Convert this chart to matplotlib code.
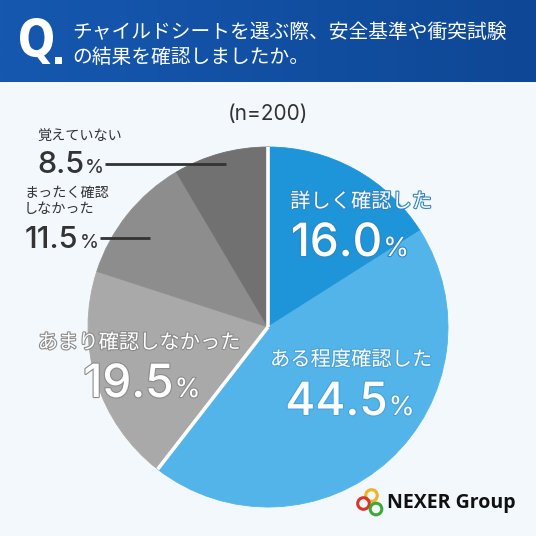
import matplotlib
matplotlib.use('Agg')
import matplotlib.pyplot as plt
import numpy as np
from matplotlib import patheffects as pe
from matplotlib.patches import Circle, PathPatch
from matplotlib.colors import LinearSegmentedColormap
from matplotlib.textpath import TextPath
from matplotlib.font_manager import FontProperties
from matplotlib.transforms import Affine2D

# ---------------- data ----------------
categories = ['詳しく確認した', 'ある程度確認した', 'あまり確認しなかった',
              'まったく確認\nしなかった', '覚えていない']
values = [16.0, 44.5, 19.5, 11.5, 8.5]
colors = ['#1E95D8', '#53B4E9', '#A9A9A9', '#8D8D8D', '#717171']
title_lines = ['チャイルドシートを選ぶ際、安全基準や衝突試験', 'の結果を確認しましたか。']
n_label = '(n=200)'
brand = 'NEXER Group'

JP = ['Noto Sans CJK JP', 'DejaVu Sans']
NUM = ['Inter', 'DejaVu Sans']

W = H = 536
BG = '#F3F8FC'
fig = plt.figure(figsize=(5.36, 5.36), dpi=100)
fig.patch.set_facecolor(BG)

# base axes: background + header
base = fig.add_axes([0, 0, 1, 1], zorder=0)
base.set_facecolor(BG)
base.axis('off')
grad = np.linspace(0, 1, 256)[None, :]
cmap = LinearSegmentedColormap.from_list('h', ['#1658B0', '#0E4795'])
base.imshow(grad, extent=[0, W, 82, 0], cmap=cmap, aspect='auto', zorder=0)
base.set_xlim(0, W)
base.set_ylim(H, 0)

# ---------------- pie ----------------
cx, cy, r = 268, 327, 180
pax = fig.add_axes([(cx - r) / W, (H - cy - r) / H, 2 * r / W, 2 * r / H], zorder=1)
wedges, _ = pax.pie(values, colors=colors, startangle=90, counterclock=False, radius=1)
for w, c in zip(wedges, colors):
    w.set_edgecolor(c)
    w.set_linewidth(0.6)
pax.set_xlim(-1, 1)
pax.set_ylim(-1, 1)
pax.set_aspect('equal')
pax.axis('off')

# white separators between the "confirmed" and "not confirmed" groups
cum = np.cumsum([0] + values)
for k in (0, 2):
    th = np.deg2rad(90 - 360 * cum[k] / 100)
    pax.plot([0, np.cos(th)], [0, np.sin(th)], color='white', lw=2.6, solid_capstyle='butt', zorder=5)

# overlay axes for text
bg = fig.add_axes([0, 0, 1, 1], zorder=2)
bg.patch.set_alpha(0)
bg.axis('off')
bg.set_xlim(0, W)
bg.set_ylim(H, 0)


def fit_text(s, box, prop, color='white', z=5):
    x0, x1, y0, y1 = box
    tp = TextPath((0, 0), s, size=50, prop=prop)
    ext = tp.get_extents()
    sx = (x1 - x0) / ext.width
    sy = (y1 - y0) / ext.height
    tr = Affine2D().translate(-ext.x0, -ext.y1).scale(sx, -sy).translate(x0, y0)
    bg.add_patch(PathPatch(tr.transform_path(tp), color=color, lw=0, zorder=z))


fit_text('Q', (20, 53, 18, 64), FontProperties(family='DejaVu Sans', weight='bold'))
fit_text('.', (55, 62, 57, 64), FontProperties(family='DejaVu Sans', weight='bold'))

bg.text(72, 32, title_lines[0], fontsize=14.2, color='white', va='center', ha='left', family=JP)
bg.text(72, 57, title_lines[1], fontsize=14.2, color='white', va='center', ha='left', family=JP)

bg.text(268, 114, n_label, fontsize=15, color='#333333', va='center', ha='center', family=NUM)

renderer = fig.canvas.get_renderer()


def num_pct(x, y, value, size, psize, color, ha='left', stroke=None, gap=1):
    kw = {}
    if stroke:
        kw['path_effects'] = [pe.withStroke(linewidth=1.6, foreground=stroke)]
    t = bg.text(0, y, f'{value:.1f}', fontsize=size, color=color, va='baseline', ha='left',
                family=NUM, fontweight='medium', zorder=6, **kw)
    p = bg.text(0, y, '%', fontsize=psize, color=color, va='baseline', ha='left',
                family=NUM, zorder=6, **kw)
    wt = t.get_window_extent(renderer).width
    wp = p.get_window_extent(renderer).width
    total = wt + gap + wp
    left = x - total / 2 if ha == 'center' else x
    t.set_x(left)
    p.set_x(left + wt + gap)
    return left + total


# labels on slices
bg.text(361, 202, categories[0], fontsize=14.6, color='white', ha='center', va='center', family=JP,
        zorder=6, path_effects=[pe.withStroke(linewidth=1.6, foreground='#2F86C4')])
num_pct(350, 256, values[0], 33, 19, 'white', ha='center', stroke='#2F86C4')

bg.text(351, 360, categories[1], fontsize=14.6, color='white', ha='center', va='center', family=JP,
        zorder=6, path_effects=[pe.withStroke(linewidth=1.6, foreground='#4AA2D6')])
num_pct(350, 415, values[1], 33, 19, 'white', ha='center', stroke='#4AA2D6')

bg.text(139, 343, categories[2], fontsize=14.6, color='white', ha='center', va='center', family=JP,
        zorder=6, path_effects=[pe.withStroke(linewidth=1.6, foreground='#8C8C8C')])
num_pct(142, 397, values[2], 33, 19, 'white', ha='center', stroke='#8C8C8C')

# outside labels
DARK = '#333333'
bg.text(37, 137, categories[4], fontsize=10.2, color=DARK, ha='left', va='center', family=JP)
end = num_pct(37, 173, values[4], 22, 14, DARK)
bg.plot([end + 1, 226], [164, 164], color=DARK, lw=2, solid_capstyle='butt', zorder=6)

bg.text(24, 201, categories[3], fontsize=10.2, color=DARK, ha='left', va='center', family=JP,
        linespacing=1.15)
end = num_pct(25, 248, values[3], 22, 14, DARK)
bg.plot([end + 1, 150], [238, 238], color=DARK, lw=2, solid_capstyle='butt', zorder=6)

# ---------------- logo ----------------
for (x, y), c in zip([(371.5, 495.5), (363.5, 503.5), (376, 509)], ['#F0B323', '#D8382C', '#3DA93A']):
    bg.add_patch(Circle((x, y), 5.8, fill=False, edgecolor=c, lw=2.2, zorder=7))
bg.text(387, 503, brand, fontsize=14, fontweight='bold', color='#111111', ha='left', va='center',
        family=['Open Sans', 'DejaVu Sans'], zorder=7)

fig.savefig('out.png', dpi=100, facecolor=BG)
